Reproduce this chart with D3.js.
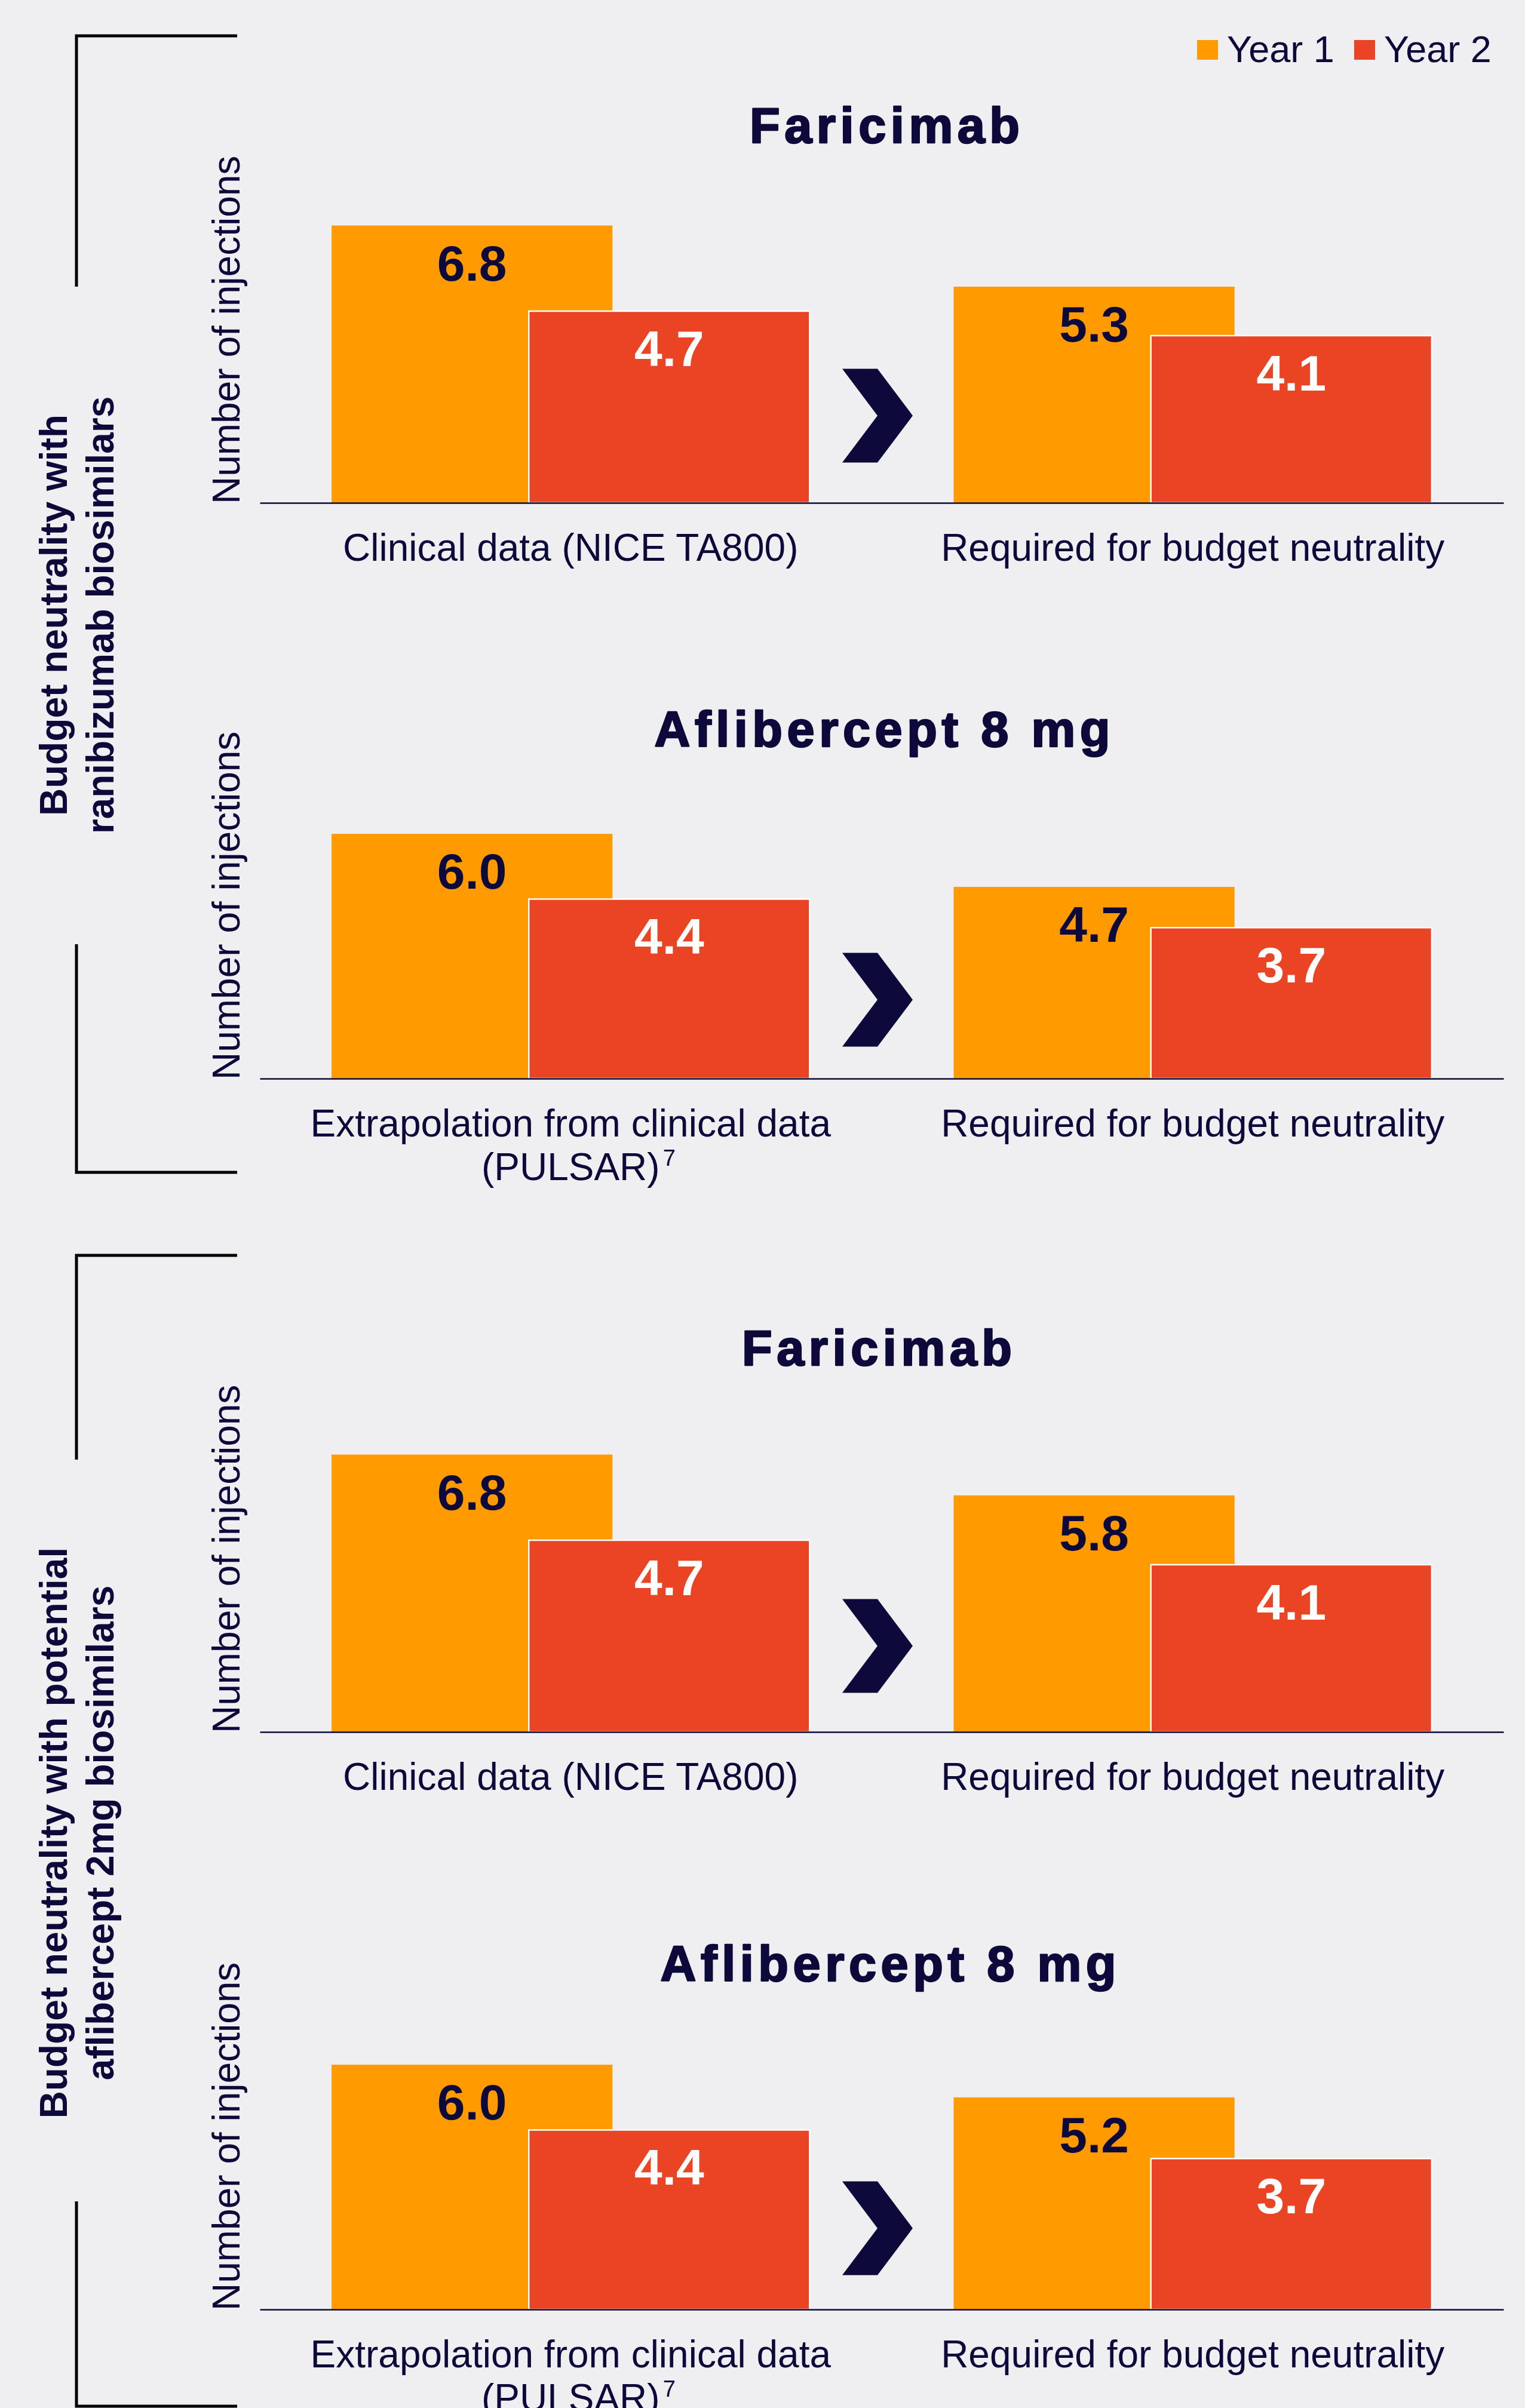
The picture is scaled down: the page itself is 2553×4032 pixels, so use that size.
<!DOCTYPE html>
<html>
<head>
<meta charset="utf-8">
<script src="https://cdn.jsdelivr.net/npm/d3@7"></script>
<style>
  html, body { margin: 0; padding: 0; background: #efeff1; }
  svg { display: block; }
</style>
</head>
<body>
<svg id="chart"></svg>
<script>
// ---- Data ----
const seriesNames = ["Year 1", "Year 2"];
const panelTitles = ["Faricimab", "Aflibercept 8 mg", "Faricimab", "Aflibercept 8 mg"];
const panelCategories = [
  ["Clinical data (NICE TA800)", "Required for budget neutrality"],
  ["Extrapolation from clinical data\n(PULSAR)^7", "Required for budget neutrality"],
  ["Clinical data (NICE TA800)", "Required for budget neutrality"],
  ["Extrapolation from clinical data\n(PULSAR)^7", "Required for budget neutrality"]
];
const year1Values = [[6.8, 5.3], [6.0, 4.7], [6.8, 5.8], [6.0, 5.2]];
const year2Values = [[4.7, 4.1], [4.4, 3.7], [4.7, 4.1], [4.4, 3.7]];
const groupLabels = [
  ["Budget neutrality with", "ranibizumab biosimilars"],
  ["Budget neutrality with potential", "aflibercept 2mg biosimilars"]
];
const yAxisTitle = "Number of injections";

// ---- Layout & style ----
const W = 2553, H = 4032;
const NAVY = "#0d0a3b", ORANGE = "#ff9b00", RED = "#e94524", BG = "#efeff1";
const FONT = "'Liberation Sans', Arial, Helvetica, sans-serif";
const seriesColors = [ORANGE, RED];
const labelColors = [NAVY, "#ffffff"];
const seriesSpan = [[0, 0.5875], [0.4125, 1]];   // fraction of the group band
const axisX0 = 435, axisX1 = 2517;
const unitPx = 68.3, yMax = 7;
const panelLayout = [
  { base: 842,  titleX: 1481, titleY: 239,  chevY: 696 },
  { base: 1806, titleX: 1477, titleY: 1250, chevY: 1674 },
  { base: 2900, titleX: 1468, titleY: 2286, chevY: 2756 },
  { base: 3867, titleX: 1487, titleY: 3317, chevY: 3731 }
];
const groupLayout = [
  { top: 60,   upperEnd: 480,  lowerStart: 1581, bottom: 1963, cy: 1030 },
  { top: 2102, upperEnd: 2444, lowerStart: 3686, bottom: 4029, cy: 3069 }
];

const svg = d3.select("#chart").attr("width", W).attr("height", H);
svg.append("rect").attr("width", W).attr("height", H).attr("fill", BG);

const seriesValues = [year1Values, year2Values];

panelTitles.forEach((title, i) => {
  const L = panelLayout[i];
  const g = svg.append("g").attr("class", "panel");
  const cats = panelCategories[i];

  const x = d3.scaleBand()
    .domain(cats.map((c, j) => j + "|" + c))
    .range([axisX0, axisX1])
    .paddingInner(0.2315)
    .paddingOuter(0.1153);
  const y = d3.scaleLinear().domain([0, yMax]).range([L.base, L.base - yMax * unitPx]);
  const sub = d3.scaleLinear().domain([0, 1]).range([0, x.bandwidth()]);

  // title
  const titleSpacing = 7.5;
  g.append("text")
    .attr("x", L.titleX + titleSpacing / 2).attr("y", L.titleY)
    .attr("text-anchor", "middle")
    .attr("font-family", FONT).attr("font-weight", "bold")
    .attr("font-size", 83).attr("letter-spacing", titleSpacing)
    .attr("fill", NAVY).attr("stroke", NAVY).attr("stroke-width", 2.6)
    .attr("stroke-linejoin", "round")
    .text(title);

  // bars
  const rows = [];
  cats.forEach((c, j) => {
    seriesNames.forEach((s, k) => {
      rows.push({ key: j + "|" + c, series: k, value: seriesValues[k][i][j] });
    });
  });

  g.selectAll("rect.bar").data(rows).join("rect")
    .attr("class", "bar")
    .attr("x", d => x(d.key) + sub(seriesSpan[d.series][0]))
    .attr("width", d => sub(seriesSpan[d.series][1]) - sub(seriesSpan[d.series][0]))
    .attr("y", d => y(d.value))
    .attr("height", d => y(0) - y(d.value))
    .attr("fill", d => seriesColors[d.series])
    .attr("stroke", d => d.series === 1 ? "#ffffff" : "none")
    .attr("stroke-width", 2.5);

  g.selectAll("text.val").data(rows).join("text")
    .attr("class", "val")
    .attr("x", d => x(d.key) + sub((seriesSpan[d.series][0] + seriesSpan[d.series][1]) / 2))
    .attr("y", d => y(d.value) + 92)
    .attr("text-anchor", "middle")
    .attr("font-family", FONT).attr("font-weight", "bold").attr("font-size", 84)
    .attr("fill", d => labelColors[d.series])
    .text(d => d.value.toFixed(1));

  // baseline axis
  const axis = g.append("g")
    .attr("transform", `translate(0,${L.base})`)
    .call(d3.axisBottom(x).tickSize(0).tickSizeOuter(0).tickFormat(""));
  axis.select(".domain").attr("stroke", NAVY).attr("stroke-width", 2.5);

  // category labels (multi-line, optional superscript)
  cats.forEach((c, j) => {
    const cx = x(j + "|" + c) + x.bandwidth() / 2;
    c.split("\n").forEach((line, li) => {
      const parts = line.split("^");
      const ty = L.base + 97 + li * 73;
      const t = g.append("text")
        .attr("x", cx).attr("y", ty)
        .attr("text-anchor", "middle")
        .attr("font-family", FONT).attr("font-size", 64)
        .attr("fill", NAVY)
        .text(parts[0]);
      if (parts[1]) {
        const w = t.node().getComputedTextLength();
        g.append("text")
          .attr("x", cx + w / 2 + 5).attr("y", ty - 24)
          .attr("font-family", FONT).attr("font-size", 38)
          .attr("fill", NAVY)
          .text(parts[1]);
      }
    });
  });

  // chevron between the two groups
  const k0 = x("0|" + cats[0]) + x.bandwidth();
  const k1 = x("1|" + cats[1]);
  const cxv = (k0 + k1) / 2 - 7;
  const hw = 59, hh = 78.5;
  g.append("path")
    .attr("d", `M${cxv - hw},${L.chevY - hh} L${cxv},${L.chevY - hh} L${cxv + hw},${L.chevY} L${cxv},${L.chevY + hh} L${cxv - hw},${L.chevY + hh} L${cxv},${L.chevY} Z`)
    .attr("fill", NAVY);

  // y-axis title
  g.append("text")
    .attr("transform", `translate(401,${L.base + 2}) rotate(-90)`)
    .attr("text-anchor", "start")
    .attr("font-family", FONT).attr("font-size", 64)
    .attr("fill", NAVY)
    .text(yAxisTitle);
});

// group brackets and labels
groupLabels.forEach((lines, gi) => {
  const G = groupLayout[gi];
  const bx = 128, bx1 = 397;
  svg.append("path")
    .attr("d", `M${bx1},${G.top} H${bx} V${G.upperEnd} M${bx},${G.lowerStart} V${G.bottom} H${bx1}`)
    .attr("fill", "none").attr("stroke", "#000").attr("stroke-width", 5)
    .attr("stroke-linejoin", "miter");
  lines.forEach((line, li) => {
    svg.append("text")
      .attr("transform", `translate(${112 + li * 78},${G.cy}) rotate(-90)`)
      .attr("text-anchor", "middle")
      .attr("font-family", FONT).attr("font-weight", "bold").attr("font-size", 64)
      .attr("fill", NAVY)
      .text(line);
  });
});

// legend
const legend = svg.append("g").attr("class", "legend");
const legendX = [2004, 2267];
seriesNames.forEach((s, k) => {
  legend.append("rect")
    .attr("x", legendX[k]).attr("y", 67).attr("width", 35).attr("height", 33)
    .attr("fill", seriesColors[k]);
  legend.append("text")
    .attr("x", legendX[k] + 50).attr("y", 104)
    .attr("font-family", FONT).attr("font-size", 63)
    .attr("fill", NAVY)
    .text(s);
});
</script>
</body>
</html>
